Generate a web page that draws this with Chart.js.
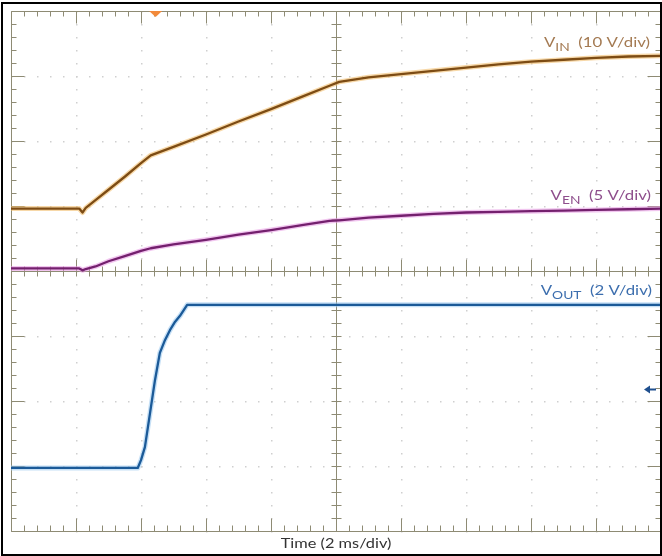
<!DOCTYPE html>
<html>
<head>
<meta charset="utf-8">
<script src="https://cdn.jsdelivr.net/npm/chart.js@4.4.1/dist/chart.umd.min.js"></script>
<style>
  html, body { margin: 0; padding: 0; background: #fff; }
  #wrap { width: 662px; height: 556px; position: relative; }
  canvas { display: block; }
</style>
</head>
<body>
<div id="wrap"><canvas id="scope" width="662" height="556"></canvas></div>
<script>
// Scope capture: time in ms (2 ms/div, 10 divisions), traces in screen divisions (0 = bottom, 8 = top)
const timeMs = [0, 1, 2, 2.1, 2.2, 2.3, 2.6, 3, 3.5, 4, 4.3, 5, 6, 7, 8, 9, 9.8, 10.1, 11, 12, 13, 14, 15, 16, 17, 18, 19, 20];
const vinDiv = [4.96, 4.96, 4.96, 4.96, 4.90, 4.97, 5.09, 5.25, 5.45, 5.66, 5.78, 5.91, 6.10, 6.30, 6.49, 6.69, 6.85, 6.91, 6.98, 7.03, 7.08, 7.13, 7.18, 7.22, 7.25, 7.28, 7.30, 7.31];
const venDiv = [4.04, 4.04, 4.04, 4.04, 4.01, 4.03, 4.07, 4.15, 4.23, 4.31, 4.35, 4.41, 4.48, 4.56, 4.63, 4.71, 4.77, 4.78, 4.82, 4.85, 4.88, 4.90, 4.91, 4.92, 4.93, 4.94, 4.95, 4.96];

const voutTimeMs = [0, 2, 3.9, 4.0, 4.12, 4.28, 4.43, 4.58, 4.74, 4.89, 5.05, 5.2, 5.42, 8, 12, 16, 20];
const voutDiv = [0.97, 0.97, 0.97, 1.09, 1.29, 1.82, 2.32, 2.74, 2.94, 3.09, 3.22, 3.31, 3.48, 3.48, 3.48, 3.48, 3.48];

// Graticule: major divisions and minor (1/5 div) subdivisions
const timeDivMs = [0, 2, 4, 6, 8, 10, 12, 14, 16, 18, 20];
const vertDiv = [0, 1, 2, 3, 4, 5, 6, 7, 8];
const minorPerDiv = 5;

// Trace labels
const traceNames = ['V', 'V', 'V'];
const traceSubs = ['IN', 'EN', 'OUT'];
const traceScales = ['  (10 V/div)', '  (5 V/div)', '  (2 V/div)'];
const timeTitle = 'Time (2 ms/div)';

// Trigger point (ms) and channel reference marker (div)
const triggerMs = 4.45;
const refMarkerDiv = 2.18;

const toPts = (xs, ys) => xs.map((x, i) => ({ x, y: ys[i] }));

const traces = [
  { data: toPts(timeMs, vinDiv), core: '#7d4c14', halo: 'rgba(240,184,96,0.55)', label: '#a47a52' },
  { data: toPts(timeMs, venDiv), core: '#74206e', halo: 'rgba(230,150,226,0.55)', label: '#8e4e8c' },
  { data: toPts(voutTimeMs, voutDiv), core: '#1b5a98', halo: 'rgba(160,204,240,0.6)', label: '#3c6eae' }
];

const datasets = [];
traces.forEach((t) => {
  datasets.push({ data: t.data, borderColor: t.halo, borderWidth: 5, order: 10, pointRadius: 0, tension: 0 });
  datasets.push({ data: t.data, borderColor: t.core, borderWidth: 2.3, order: 1, pointRadius: 0, tension: 0 });
});

const FRAME = '#8e8b74';
const LABEL_STRETCH = 1.2;
const TITLE_STRETCH = 1.31;

function stretchedText(ctx, parts, xRight, baseline, stretch) {
  // parts: [{text, size, dy, color}] drawn left to right, right-aligned at xRight
  let total = 0;
  parts.forEach(p => { ctx.font = p.size + 'px Lato'; p.w = ctx.measureText(p.text).width; total += p.w; });
  ctx.save();
  ctx.translate(xRight - total * stretch, baseline);
  ctx.scale(stretch, 1);
  let x = 0;
  parts.forEach(p => {
    ctx.font = p.size + 'px Lato';
    ctx.fillStyle = p.color;
    ctx.textBaseline = 'alphabetic';
    ctx.fillText(p.text, x, p.dy);
    x += p.w;
  });
  ctx.restore();
}

const graticule = {
  id: 'graticule',
  beforeDatasetsDraw(chart) {
    const { ctx, scales: { x, y } } = chart;
    const px = v => Math.round(x.getPixelForValue(v));
    const py = v => Math.round(y.getPixelForValue(v));
    const xMinor = [], yMinor = [];
    for (let i = 0; i < timeDivMs.length - 1; i++) {
      const step = (timeDivMs[i + 1] - timeDivMs[i]) / minorPerDiv;
      for (let k = 0; k < minorPerDiv; k++) xMinor.push({ v: timeDivMs[i] + k * step, major: k === 0 });
    }
    xMinor.push({ v: timeDivMs[timeDivMs.length - 1], major: true });
    for (let i = 0; i < vertDiv.length - 1; i++) {
      const step = (vertDiv[i + 1] - vertDiv[i]) / minorPerDiv;
      for (let k = 0; k < minorPerDiv; k++) yMinor.push({ v: vertDiv[i] + k * step, major: k === 0 });
    }
    yMinor.push({ v: vertDiv[vertDiv.length - 1], major: true });

    const xMid = timeDivMs[Math.floor(timeDivMs.length / 2)];
    const yMid = vertDiv[Math.floor(vertDiv.length / 2)];

    ctx.save();
    // dotted grid
    ctx.fillStyle = '#cfcfcf';
    timeDivMs.slice(1, -1).forEach(t => {
      if (t === xMid) return;
      const gx = px(t);
      yMinor.forEach(m => ctx.fillRect(gx, py(m.v), 1.5, 1.5));
    });
    vertDiv.slice(1, -1).forEach(d => {
      if (d === yMid) return;
      const gy = py(d);
      xMinor.forEach(m => ctx.fillRect(px(m.v), gy, 1.5, 1.5));
    });

    // frame and centre axes
    ctx.strokeStyle = FRAME;
    ctx.lineWidth = 1;
    const L = px(timeDivMs[0]) + 0.5, R = px(timeDivMs[timeDivMs.length - 1]) - 0.5;
    const T = py(vertDiv[vertDiv.length - 1]) + 0.5, B = py(vertDiv[0]) + 0.5;
    const CX = px(xMid) + 0.5, CY = py(yMid) + 0.5;
    ctx.beginPath();
    ctx.moveTo(L, T); ctx.lineTo(R, T); ctx.lineTo(R, B); ctx.lineTo(L, B); ctx.closePath();
    ctx.moveTo(CX, T); ctx.lineTo(CX, B);
    ctx.moveTo(L, CY); ctx.lineTo(R, CY);
    // ticks along the horizontal edges and centre line
    xMinor.forEach(m => {
      const tx = px(m.v) + 0.5;
      ctx.moveTo(tx, T); ctx.lineTo(tx, T + (m.major ? 12 : 5));
      ctx.moveTo(tx, B); ctx.lineTo(tx, B - (m.major ? 13 : 6));
      ctx.moveTo(tx, CY - (m.major ? 12 : 5)); ctx.lineTo(tx, CY + 5);
    });
    // ticks along the vertical edges and centre line
    yMinor.forEach(m => {
      const ty = py(m.v) + 0.5;
      const len = m.major ? 13 : 5;
      ctx.moveTo(L, ty); ctx.lineTo(L + len, ty);
      ctx.moveTo(R, ty); ctx.lineTo(R - len, ty);
      ctx.moveTo(CX - 5, ty); ctx.lineTo(CX + 5, ty);
    });
    ctx.stroke();
    ctx.restore();
  },
  afterDatasetsDraw(chart) {
    const { ctx, chartArea: a, scales: { x, y } } = chart;
    ctx.save();
    // trace labels, right-aligned inside the plot
    const anchors = [
      { t: 19.66, base: 7.45 },
      { t: 19.69, base: 5.10 },
      { t: 19.72, base: 3.63 }
    ];
    traces.forEach((tr, i) => {
      const xr = x.getPixelForValue(anchors[i].t);
      const yb = y.getPixelForValue(anchors[i].base);
      stretchedText(ctx, [
        { text: traceNames[i], size: 14, dy: 0, color: tr.label },
        { text: traceSubs[i], size: 11.5, dy: 4, color: tr.label },
        { text: traceScales[i], size: 14, dy: 0, color: tr.label }
      ], xr, yb, LABEL_STRETCH);
    });

    // trigger marker at the top edge
    const tx = x.getPixelForValue(triggerMs);
    const top = a.top;
    ctx.fillStyle = '#f28a3a';
    ctx.beginPath();
    ctx.moveTo(tx - 6.5, top); ctx.lineTo(tx + 6.5, top); ctx.lineTo(tx, top + 6); ctx.closePath();
    ctx.fill();

    // channel reference arrow near the right edge
    const ay = Math.round(y.getPixelForValue(refMarkerDiv)) + 0.5;
    const ax = a.right - 16;
    ctx.strokeStyle = '#1f4f8e';
    ctx.fillStyle = '#1f4f8e';
    ctx.lineWidth = 2;
    ctx.beginPath(); ctx.moveTo(ax + 3, ay); ctx.lineTo(ax + 11, ay); ctx.stroke();
    ctx.beginPath(); ctx.moveTo(ax - 1, ay); ctx.lineTo(ax + 5, ay - 4); ctx.lineTo(ax + 5, ay + 4); ctx.closePath(); ctx.fill();

    // time axis title
    ctx.font = '12.5px Lato';
    const w = ctx.measureText(timeTitle).width * TITLE_STRETCH;
    const cx = x.getPixelForValue(10);
    ctx.translate(cx - w / 2, a.bottom + 17);
    ctx.scale(TITLE_STRETCH, 1);
    ctx.fillStyle = '#333333';
    ctx.fillText(timeTitle, 0, 0);
    ctx.restore();

    // outer border
    ctx.save();
    ctx.strokeStyle = '#000';
    ctx.lineWidth = 2;
    ctx.strokeRect(2, 3, chart.width - 3, chart.height - 4);
    ctx.restore();
  }
};

new Chart(document.getElementById('scope'), {
  type: 'line',
  data: { datasets },
  options: {
    responsive: false,
    animation: false,
    devicePixelRatio: 1,
    layout: { padding: { left: 11, top: 11, right: 1, bottom: 25 } },
    scales: {
      x: { type: 'linear', min: 0, max: 20, display: false },
      y: { type: 'linear', min: 0, max: 8, display: false }
    },
    elements: { line: { borderCapStyle: 'round', borderJoinStyle: 'round' } },
    plugins: { legend: { display: false }, tooltip: { enabled: false } }
  },
  plugins: [graticule]
});
</script>
</body>
</html>
